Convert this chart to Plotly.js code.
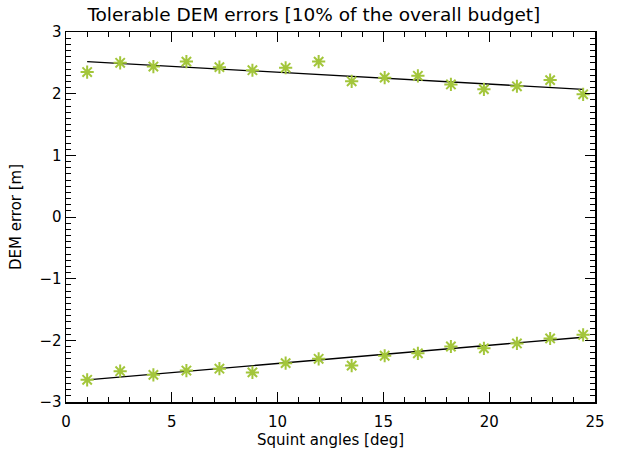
<!DOCTYPE html>
<html><head><meta charset="utf-8">
<script src="https://cdn.plot.ly/plotly-3.0.1.min.js"></script>
<style>html,body{margin:0;padding:0;background:#fff}#c{width:619px;height:452px}</style>
</head><body><div id="c"></div>
<script>
const squintAngles = [1.0, 2.56, 4.13, 5.69, 7.25, 8.81, 10.38, 11.94, 13.5, 15.06, 16.63, 18.19, 19.75, 21.31, 22.88, 24.44];
const upperErrors = [2.35, 2.50, 2.44, 2.52, 2.43, 2.38, 2.42, 2.52, 2.20, 2.26, 2.29, 2.15, 2.07, 2.12, 2.22, 1.99];
const lowerErrors = [-2.64, -2.50, -2.56, -2.49, -2.46, -2.52, -2.37, -2.30, -2.41, -2.25, -2.21, -2.10, -2.13, -2.05, -1.97, -1.91];
const fitX = [1.0, 24.44];
const fitUpper = [2.52, 2.07];
const fitLower = [-2.64, -1.95];
const xTicks = [0, 5, 10, 15, 20, 25];
const yTicks = [-3, -2, -1, 0, 1, 2, 3];

const green = '#a3c63b';
const mk = {symbol: 'asterisk-open', size: 11, color: green, line: {color: green, width: 2}};
const traces = [
  {x: fitX, y: fitUpper, mode: 'lines', line: {color: '#000', width: 1.3}, hoverinfo: 'skip'},
  {x: fitX, y: fitLower, mode: 'lines', line: {color: '#000', width: 1.3}, hoverinfo: 'skip'},
  {x: squintAngles, y: upperErrors, mode: 'markers', marker: mk},
  {x: squintAngles, y: lowerErrors, mode: 'markers', marker: mk}
];
const font = {family: 'DejaVu Sans', size: 15, color: '#000'};
const layout = {
  width: 619, height: 452,
  margin: {l: 66, r: 24, t: 32, b: 50},
  showlegend: false,
  paper_bgcolor: '#fff', plot_bgcolor: '#fff',
  font: font,
  title: {text: 'Tolerable DEM errors [10% of the overall budget]', x: 0.507, xanchor: 'center', y: 0.983, yanchor: 'top', font: {family: 'DejaVu Sans', size: 18.5, color: '#000'}},
  xaxis: {
    range: [0, 25], tickvals: xTicks, ticktext: xTicks.map(String),
    ticks: 'inside', ticklen: 10, tickwidth: 1, tickcolor: '#000',
    showline: true, linecolor: '#000', linewidth: 1.5, mirror: 'ticks',
    showgrid: false, zeroline: false, ticklabelstandoff: 5,
    minor: {dtick: 1, tick0: 0, ticks: 'inside', ticklen: 5, tickcolor: '#000', tickwidth: 1, showgrid: false},
    tickfont: font,
    title: {text: 'Squint angles [deg]', font: font, standoff: 2}
  },
  yaxis: {
    range: [-3, 3], tickvals: yTicks, ticktext: yTicks.map(v => v < 0 ? '\u2212' + Math.abs(v) : String(v)),
    ticks: 'inside', ticklen: 10, tickwidth: 1, tickcolor: '#000',
    showline: true, linecolor: '#000', linewidth: 1.5, mirror: 'ticks',
    showgrid: false, zeroline: false,
    minor: {dtick: 0.1, tick0: 0, ticks: 'inside', ticklen: 5, tickcolor: '#000', tickwidth: 1, showgrid: false},
    tickfont: font,
    title: {text: 'DEM error [m]', font: font, standoff: 14}
  }
};
Plotly.newPlot('c', traces, layout, {displayModeBar: false, staticPlot: true});
</script></body></html>
